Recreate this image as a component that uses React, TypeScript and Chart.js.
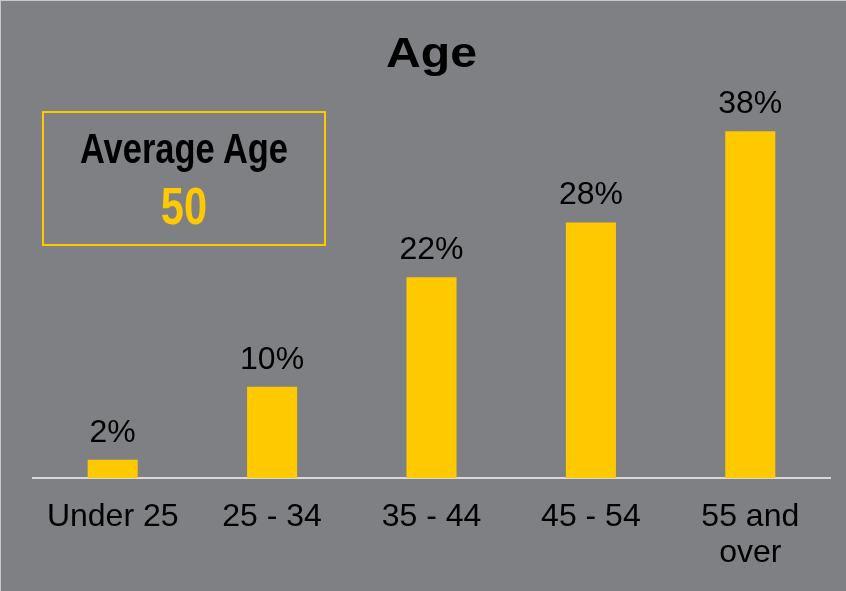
import React, { useEffect, useRef } from "react";
import { Chart, registerables } from "chart.js";

Chart.register(...registerables);

const categories: (string | string[])[] = ["Under 25", "25 - 34", "35 - 44", "45 - 54", ["55 and", "over"]];
const shares: number[] = [2, 10, 22, 28, 38];
const shareLabels: string[] = ["2%", "10%", "22%", "28%", "38%"];
const titleText = "Age";
const boxTitle = "Average Age";
const boxValue = "50";

const BG = "#7f8084";
const GOLD = "#ffc900";
const FONT = "'Liberation Sans', Arial, sans-serif";

const bgPlugin = {
  id: "bg",
  beforeDraw(chart: any) {
    const { ctx, width, height } = chart;
    ctx.save();
    ctx.fillStyle = BG;
    ctx.fillRect(0, 0, width, height);
    ctx.fillStyle = "#c8c8ca";
    ctx.fillRect(0, 0, width, 1);
    ctx.fillRect(0, 0, 1, height);
    ctx.restore();
  },
};

const titlePlugin = {
  id: "stretchedTitle",
  afterDraw(chart: any) {
    const { ctx, chartArea } = chart;
    const cx = (chartArea.left + chartArea.right) / 2;
    ctx.save();
    ctx.translate(cx, 66.5);
    ctx.scale(1.12, 1);
    ctx.fillStyle = "#000";
    ctx.font = `bold 43px ${FONT}`;
    ctx.textAlign = "center";
    ctx.textBaseline = "alphabetic";
    ctx.fillText(titleText, 0, 0);
    ctx.restore();
  },
};

const labelPlugin = {
  id: "valueLabels",
  afterDatasetsDraw(chart: any) {
    const { ctx } = chart;
    const meta = chart.getDatasetMeta(0);
    ctx.save();
    ctx.fillStyle = "#000";
    ctx.font = `32px ${FONT}`;
    ctx.textAlign = "center";
    ctx.textBaseline = "middle";
    meta.data.forEach((bar: any, i: number) => {
      ctx.fillText(shareLabels[i], bar.x, bar.y - 27);
    });
    ctx.restore();
  },
};

export default function App() {
  const ref = useRef<HTMLCanvasElement>(null);
  useEffect(() => {
    if (!ref.current) return;
    const chart = new Chart(ref.current, {
      type: "bar",
      data: {
        labels: categories,
        datasets: [
          {
            data: shares,
            backgroundColor: GOLD,
            borderWidth: 0,
            categoryPercentage: 1,
            barPercentage: 0.314,
          },
        ],
      },
      options: {
        animation: false,
        responsive: false,
        maintainAspectRatio: false,
        layout: { padding: { left: 33, right: 16, top: 113, bottom: 0 } },
        plugins: {
          legend: { display: false },
          tooltip: { enabled: false },
          title: { display: false },
        },
        scales: {
          x: {
            grid: { display: false, drawTicks: false },
            border: { display: true, color: "#d9d9d9", width: 2 },
            afterFit(scale: any) {
              scale.height = 113;
            },
            ticks: {
              color: "#000",
              padding: 22,
              maxRotation: 0,
              autoSkip: false,
              font: { family: FONT, size: 32, lineHeight: 1.1 },
            },
          },
          y: {
            display: false,
            min: 0,
            max: 40,
          },
        },
      },
      plugins: [bgPlugin, labelPlugin, titlePlugin],
    });
    return () => chart.destroy();
  }, []);

  const textLine: React.CSSProperties = {
    position: "absolute",
    left: 0,
    width: "100%",
    textAlign: "center",
    fontFamily: FONT,
    fontWeight: "bold",
    whiteSpace: "nowrap",
    transformOrigin: "center",
  };

  return (
    <div style={{ position: "absolute", left: 0, top: 0, width: 846, height: 591, background: BG }}>
      <canvas ref={ref} width={846} height={591} style={{ display: "block" }} />
      <div
        style={{
          position: "absolute",
          left: 42,
          top: 111,
          width: 280,
          height: 131,
          border: `2px solid ${GOLD}`,
        }}
      >
        <div style={{ ...textLine, top: 15, fontSize: 42, lineHeight: "42px", color: "#000", transform: "scaleX(0.82)" }}>
          {boxTitle}
        </div>
        <div style={{ ...textLine, top: 67, fontSize: 52, lineHeight: "52px", color: GOLD, transform: "scaleX(0.8)" }}>
          {boxValue}
        </div>
      </div>
    </div>
  );
}
